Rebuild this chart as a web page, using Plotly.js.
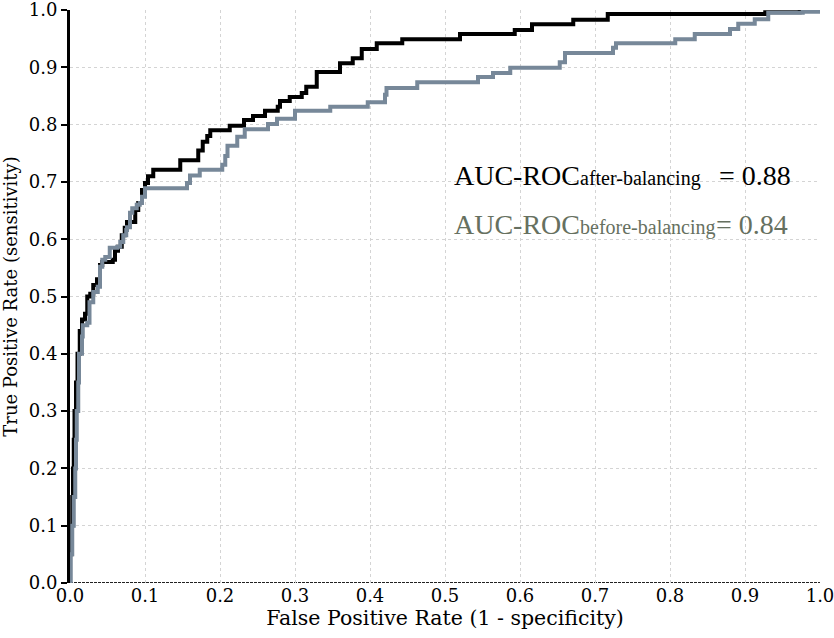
<!DOCTYPE html>
<html><head><meta charset="utf-8">
<script src="https://cdn.plot.ly/plotly-3.0.1.min.js"></script>
<style>html,body{margin:0;padding:0;background:#fff;} #chart{width:834px;height:638px;}</style>
</head><body><div id="chart"></div>
<script>
// ROC after balancing (black)
const afterFpr = [0, 0, 0.002, 0.003, 0.004, 0.005, 0.006, 0.008, 0.010, 0.013, 0.016, 0.020, 0.023, 0.027, 0.031, 0.036, 0.040, 0.043, 0.057, 0.060, 0.064, 0.069, 0.073, 0.076, 0.087, 0.091, 0.096, 0.100, 0.104, 0.111, 0.147, 0.171, 0.177, 0.183, 0.187, 0.213, 0.232, 0.244, 0.260, 0.277, 0.280, 0.293, 0.309, 0.315, 0.329, 0.360, 0.377, 0.389, 0.409, 0.443, 0.520, 0.593, 0.616, 0.671, 0.717, 0.927, 0.973, 1.0];
const afterTpr = [0, 0.05, 0.10, 0.15, 0.20, 0.25, 0.30, 0.35, 0.40, 0.44, 0.46, 0.47, 0.50, 0.505, 0.52, 0.53, 0.555, 0.56, 0.564, 0.58, 0.587, 0.607, 0.62, 0.63, 0.651, 0.663, 0.686, 0.698, 0.71, 0.721, 0.738, 0.755, 0.77, 0.78, 0.79, 0.798, 0.808, 0.815, 0.824, 0.831, 0.841, 0.848, 0.855, 0.866, 0.892, 0.907, 0.916, 0.932, 0.942, 0.949, 0.958, 0.965, 0.975, 0.983, 0.993, 0.996, 1.0, 1.0];
// ROC before balancing (gray)
const beforeFpr = [0, 0.001, 0.003, 0.005, 0.007, 0.008, 0.009, 0.011, 0.012, 0.016, 0.017, 0.023, 0.026, 0.031, 0.037, 0.040, 0.043, 0.047, 0.053, 0.063, 0.067, 0.071, 0.075, 0.076, 0.080, 0.083, 0.089, 0.093, 0.096, 0.100, 0.156, 0.160, 0.173, 0.203, 0.207, 0.210, 0.223, 0.233, 0.264, 0.276, 0.300, 0.347, 0.397, 0.420, 0.422, 0.463, 0.544, 0.564, 0.587, 0.653, 0.660, 0.724, 0.728, 0.807, 0.833, 0.880, 0.891, 0.913, 0.931, 0.977, 1.0];
const beforeTpr = [0, 0.05, 0.10, 0.15, 0.20, 0.25, 0.30, 0.35, 0.40, 0.43, 0.45, 0.454, 0.49, 0.508, 0.517, 0.552, 0.564, 0.569, 0.585, 0.587, 0.595, 0.607, 0.616, 0.621, 0.646, 0.654, 0.66, 0.663, 0.674, 0.689, 0.698, 0.711, 0.721, 0.73, 0.745, 0.763, 0.779, 0.792, 0.801, 0.81, 0.824, 0.831, 0.839, 0.852, 0.864, 0.874, 0.883, 0.89, 0.899, 0.909, 0.925, 0.934, 0.942, 0.949, 0.958, 0.967, 0.976, 0.984, 0.995, 0.997, 1.0];

const tickVals = [0, 0.1, 0.2, 0.3, 0.4, 0.5, 0.6, 0.7, 0.8, 0.9, 1.0];
const tickText = ['0.0', '0.1', '0.2', '0.3', '0.4', '0.5', '0.6', '0.7', '0.8', '0.9', '1.0'];
const xTitle = 'False Positive Rate (1 - specificity)';
const yTitle = 'True Positive Rate (sensitivity)';
const aucAfter = '0.88';
const aucBefore = '0.84';

const axisFont = {family: 'DejaVu Serif', size: 18, color: '#000'};
const annFont = 'Liberation Serif';

const traces = [
  {x: afterFpr, y: afterTpr, type: 'scatter', mode: 'lines', line: {shape: 'hv', color: '#000000', width: 4}, name: 'after'},
  {x: beforeFpr, y: beforeTpr, type: 'scatter', mode: 'lines', line: {shape: 'hv', color: '#778899', width: 4}, name: 'before'}
];

const layout = {
  width: 834, height: 638,
  margin: {l: 70, r: 14, t: 10, b: 55},
  paper_bgcolor: '#fff', plot_bgcolor: '#fff',
  showlegend: false,
  xaxis: {
    range: [0, 1], tickmode: 'array', tickvals: tickVals, ticktext: tickText, tickfont: axisFont,
    ticklabeloverflow: 'allow',
    showgrid: true, gridcolor: '#d4d4d4', griddash: 'dot', gridwidth: 1,
    zeroline: false, showline: false, ticks: '',
    title: {text: xTitle, font: {family: 'DejaVu Serif', size: 20.5, color: '#000'}, standoff: 4}
  },
  yaxis: {
    range: [0, 1], tickmode: 'array', tickvals: tickVals, ticktext: tickText, tickfont: axisFont,
    ticklabeloverflow: 'allow',
    showgrid: true, gridcolor: '#d4d4d4', griddash: 'dot', gridwidth: 1,
    zeroline: false, showline: true, linecolor: '#000', linewidth: 3,
    ticks: 'outside', ticklen: 6, tickwidth: 2, tickcolor: '#000',
    title: {text: yTitle, font: {family: 'DejaVu Serif', size: 18, color: '#000'}, standoff: 8}
  },
  shapes: [
    {type: 'line', xref: 'x', yref: 'y', x0: 0, x1: 1, y0: 0, y1: 0, layer: 'below',
     line: {color: '#222', width: 2, dash: '3px,1px'}}
  ],
  annotations: [
    {xref: 'paper', yref: 'paper', x: 0.509, y: 0.712, xanchor: 'left', yanchor: 'middle', showarrow: false,
     text: "AUC-ROC<span style='font-size:20px'>after-balancing</span>", font: {family: annFont, size: 28, color: '#000'}},
    {xref: 'paper', yref: 'paper', x: 0.862, y: 0.712, xanchor: 'left', yanchor: 'middle', showarrow: false,
     text: '= ' + aucAfter, font: {family: annFont, size: 28, color: '#000'}},
    {xref: 'paper', yref: 'paper', x: 0.509, y: 0.625, xanchor: 'left', yanchor: 'middle', showarrow: false,
     text: "AUC-ROC<span style='font-size:20px'>before-balancing</span>", font: {family: annFont, size: 28, color: '#667060'}},
    {xref: 'paper', yref: 'paper', x: 0.859, y: 0.625, xanchor: 'left', yanchor: 'middle', showarrow: false,
     text: '= ' + aucBefore, font: {family: annFont, size: 28, color: '#667060'}}
  ]
};

Plotly.newPlot('chart', traces, layout, {displayModeBar: false, staticPlot: true});
</script>
</body></html>
